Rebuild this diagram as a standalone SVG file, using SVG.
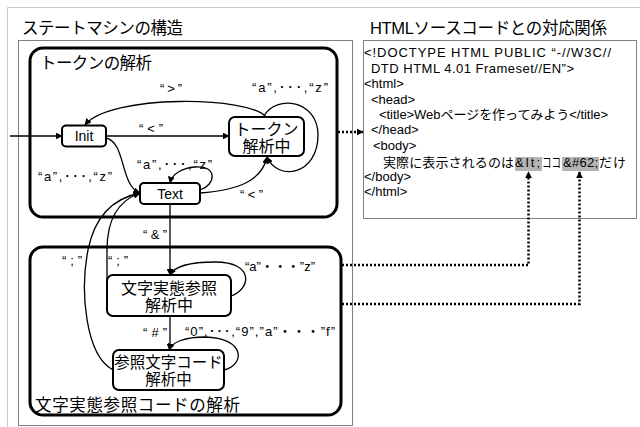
<svg xmlns="http://www.w3.org/2000/svg" width="640" height="427" viewBox="0 0 640 427">
<defs>
<style>
.t{font-family:"Liberation Sans","Noto Sans CJK JP",sans-serif;fill:#000}
.h{font-size:16.5px}
.lab{font-size:13px}
.src{font-size:13px}
.node{fill:#fff;stroke:#000;stroke-width:2}
.grp{fill:none;stroke:#000;stroke-width:3}
.frame{fill:none;stroke:#000;stroke-width:1;stroke-dasharray:1 1}
.c{fill:none;stroke:#000;stroke-width:1.3}
.d{fill:none;stroke:#000;stroke-width:2.5;stroke-dasharray:2 2}
</style>
<marker id="ah" viewBox="0 0 10 10" refX="9" refY="5" markerWidth="7" markerHeight="7" markerUnits="userSpaceOnUse" orient="auto"><path d="M0,0 L10,5 L0,10 z" fill="#000"/></marker>
</defs>
<rect width="640" height="427" fill="#fff"/>
<path d="M7.5,427 V7.5 H640" fill="none" stroke="#c8c8c8" stroke-width="1"/>

<text class="t h" x="22" y="34" textLength="161">ステートマシンの構造</text>
<text class="t h" x="370" y="34" textLength="237">HTMLソースコードとの対応関係</text>

<rect class="frame" x="18.5" y="40.5" width="334" height="385"/>
<rect class="frame" x="363.5" y="40.5" width="273" height="178"/>

<g id="token-group">
<rect class="grp" x="30" y="48" width="307" height="169" rx="13"/>
<text class="t h" x="40" y="69" textLength="112">トークンの解析</text>
</g>
<g id="ref-group">
<rect class="grp" x="30" y="247" width="311" height="168" rx="13"/>
<text class="t h" x="35" y="411" textLength="205">文字実態参照コードの解析</text>
</g>

<g id="source">
<rect x="515" y="157" width="27" height="14" fill="#b4b4b4"/>
<rect x="562" y="157" width="37" height="14" fill="#b4b4b4"/>
<text class="t src" x="364" y="57" textLength="247">&lt;!DOCTYPE HTML PUBLIC “-//W3C//</text>
<text class="t src" x="371" y="72.5" textLength="203">DTD HTML 4.01 Frameset//EN”&gt;</text>
<text class="t src" x="364" y="88">&lt;html&gt;</text>
<text class="t src" x="371" y="103.5">&lt;head&gt;</text>
<text class="t src" x="379" y="118.5" textLength="229">&lt;title&gt;Webページを作ってみよう&lt;/title&gt;</text>
<text class="t src" x="371" y="134">&lt;/head&gt;</text>
<text class="t src" x="373" y="149.5">&lt;body&gt;</text>
<text class="t src" x="383" y="167" textLength="131">実際に表示されるのは</text>
<text class="t src" x="515" y="167" textLength="25">&amp;lt;</text>
<text class="t src" transform="translate(542,167) scale(0.73,1)">ココ</text>
<text class="t src" x="563" y="167" textLength="35">&amp;#62;</text>
<text class="t src" x="599" y="167" textLength="27">だけ</text>
<text class="t src" x="364" y="180.5">&lt;/body&gt;</text>
<text class="t src" x="364" y="195.5">&lt;/html&gt;</text>
</g>

<g id="init">
<rect class="node" x="62" y="125.5" width="44" height="21" rx="4"/>
<text class="t" x="84" y="141" font-size="14" text-anchor="middle">Init</text>
</g>
<g id="token-parsing">
<rect class="node" x="229" y="117" width="75" height="39" rx="6"/>
<text class="t" x="266.5" y="134.5" font-size="16" text-anchor="middle">トークン</text>
<text class="t" x="266.5" y="151.5" font-size="16" text-anchor="middle">解析中</text>
</g>
<g id="text">
<rect class="node" x="140" y="183" width="60" height="21" rx="4"/>
<text class="t" x="170" y="198.5" font-size="14" text-anchor="middle">Text</text>
</g>
<g id="entity-parsing">
<rect class="node" x="107" y="275" width="124" height="41" rx="6"/>
<text class="t" x="169" y="294" font-size="16" text-anchor="middle">文字実態参照</text>
<text class="t" x="169" y="311" font-size="16" text-anchor="middle">解析中</text>
</g>
<g id="charcode-parsing">
<rect class="node" x="113" y="350" width="111" height="40" rx="6"/>
<text class="t" x="168.5" y="368" font-size="15.5" text-anchor="middle">参照文字コード</text>
<text class="t" x="168.5" y="385" font-size="15.5" text-anchor="middle">解析中</text>
</g>

<g id="connectors">
<path class="c" d="M10,136 H62" marker-end="url(#ah)"/>
<path class="c" d="M106,136 H229" marker-end="url(#ah)"/>
<path class="c" d="M266,117 C250,96 110,94 85,125" marker-end="url(#ah)"/>
<path class="c" d="M264,116 C276,94 318,100 318,135 C318,175 278,182 267,157" marker-end="url(#ah)"/>
<path class="c" d="M200,193 C240,190 262,180 267,157" marker-end="url(#ah)"/>
<path class="c" d="M106,138 C126,142 120,186 140,193" marker-end="url(#ah)"/>
<path class="c" d="M200,190 C216,185 218,165 195,167 C182,168 172,174 170,183" marker-end="url(#ah)"/>
<path class="c" d="M170,204 V275" marker-end="url(#ah)"/>
<path class="c" d="M231,296 C250,290 256,262 215,262 C195,262 175,265 170,275" marker-end="url(#ah)"/>
<path class="c" d="M170,316 V350" marker-end="url(#ah)"/>
<path class="c" d="M224,370 C245,365 246,338 205,337 C185,337 172,342 169,350" marker-end="url(#ah)"/>
<path class="c" d="M107,296 L107,250 C107,218 120,200 140,193" marker-end="url(#ah)"/>
<path class="c" d="M113,370 C85,355 80,290 88,250 C95,215 115,198 140,193" marker-end="url(#ah)"/>

<path class="d" d="M338,132 H363" marker-end="url(#ah)"/>
<path class="d" d="M342,265 H528.5 V172" marker-end="url(#ah)"/>
<path class="d" d="M342,304 H579.5 V172" marker-end="url(#ah)"/>

<text class="t lab" x="160" y="93" textLength="22">“&gt;”</text>
<text class="t lab" x="252" y="92" textLength="76">“a”,･･･,“z”</text>
<text class="t lab" x="139" y="133" textLength="24">“&lt;”</text>
<text class="t lab" x="137" y="169" textLength="75">“a”,･･･,“z”</text>
<text class="t lab" x="38" y="181" textLength="74">“a”,･･･,“z”</text>
<text class="t lab" x="240" y="199" textLength="23">“&lt;”</text>
<text class="t lab" x="143" y="239" textLength="24">“&amp;”</text>
<text class="t lab" x="62" y="265" textLength="20">“;”</text>
<text class="t lab" x="108" y="265" textLength="20">“;”</text>
<text class="t lab" x="245" y="271" textLength="70">“a”・・・”z”</text>
<text class="t lab" x="143" y="337" textLength="24">“#”</text>
<text class="t lab" x="185" y="336" textLength="150">“0”,･･･,“9”,”a”・・・”f”</text>
</g>
</svg>
